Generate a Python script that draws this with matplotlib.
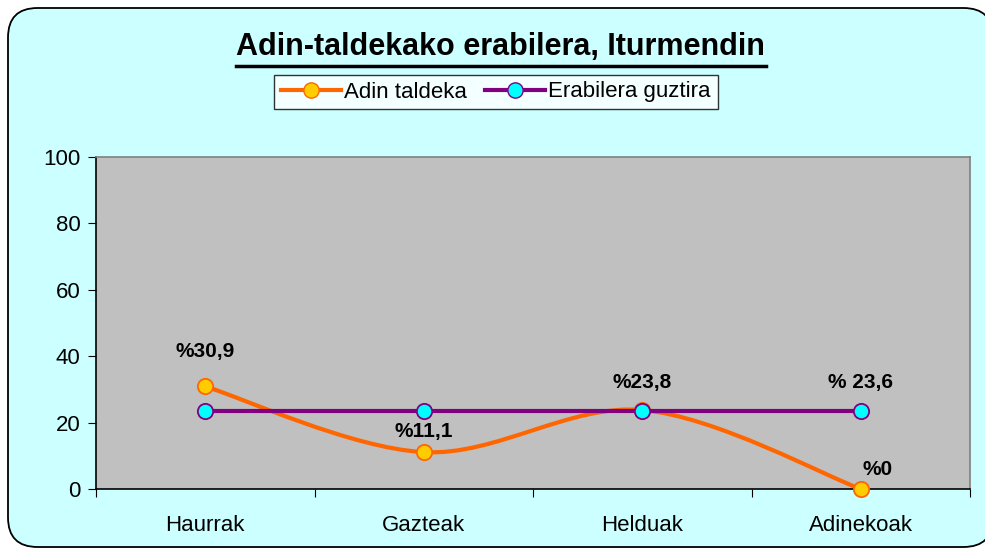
import numpy as np
import matplotlib.pyplot as plt
from matplotlib.path import Path
from matplotlib.patches import PathPatch, FancyBboxPatch
from matplotlib.lines import Line2D

plt.rcParams['font.family'] = ['Liberation Sans', 'DejaVu Sans']

categories = ["Haurrak", "Gazteak", "Helduak", "Adinekoak"]
adin_taldeka = [30.9, 11.1, 23.8, 0.0]
erabilera_guztira = [23.6, 23.6, 23.6, 23.6]
labels_adin = ["%30,9", "%11,1", "%23,8", "%0"]
label_guztira = "% 23,6"

ORANGE = "#FF6600"
ORANGE_FACE = "#FFCC00"
PURPLE = "#800080"
CYAN = "#00FFFF"


def smooth_path(xs, ys):
    # Excel-like smoothing: Catmull-Rom segments as cubic beziers
    pts = list(zip(xs, ys))
    verts = [pts[0]]
    codes = [Path.MOVETO]
    n = len(pts)
    for i in range(n - 1):
        p0 = pts[i - 1] if i > 0 else pts[i]
        p1 = pts[i]
        p2 = pts[i + 1]
        p3 = pts[i + 2] if i + 2 < n else pts[i + 1]
        c1 = (p1[0] + (p2[0] - p0[0]) / 6, p1[1] + (p2[1] - p0[1]) / 6)
        c2 = (p2[0] - (p3[0] - p1[0]) / 6, p2[1] - (p3[1] - p1[1]) / 6)
        verts += [c1, c2, p2]
        codes += [Path.CURVE4] * 3
    return Path(verts, codes)


fig = plt.figure(figsize=(9.85, 5.48), dpi=100)
fig.patch.set_facecolor("white")

# rounded chart area (right edge runs off the picture)
box = FancyBboxPatch((8 / 985, 1 / 548), 985 / 985, 539 / 548,
                     boxstyle="round,pad=0,rounding_size=0.03",
                     transform=fig.transFigure, facecolor="#CCFFFF",
                     edgecolor="black", linewidth=1.3, zorder=-5,
                     mutation_aspect=985 / 548)
fig.patches.append(box)

ax = fig.add_axes([96 / 985, 1 - 489 / 548, 874 / 985, 332 / 548])
ax.set_zorder(1)
ax.set_facecolor("#C0C0C0")
x = np.arange(len(categories)) + 0.5
ax.set_xlim(0, len(categories))
ax.set_ylim(0, 100)

# orange smoothed line
ax.add_patch(PathPatch(smooth_path(x, adin_taldeka), facecolor="none",
                       edgecolor=ORANGE, linewidth=3, zorder=3))
ax.plot(x, adin_taldeka, linestyle="none", marker="o", markersize=11,
        markerfacecolor=ORANGE_FACE, markeredgecolor=ORANGE,
        markeredgewidth=1.3, zorder=4, clip_on=False)

ax.plot(x, erabilera_guztira, color=PURPLE, linewidth=3, marker="o",
        markersize=11, markerfacecolor=CYAN, markeredgecolor=PURPLE,
        markeredgewidth=1.3, zorder=5, clip_on=False)

# data labels
offsets = [(0, 25), (0, 15), (0, 19.5), (12, 14)]
for xi, yi, lab, (dx, dy) in zip(x, adin_taldeka, labels_adin, offsets):
    ax.annotate(lab, (xi, yi), xytext=(dx, dy), textcoords="offset points",
                ha="center", va="center", fontsize=15, fontweight="bold")
ax.annotate(label_guztira, (x[-1], erabilera_guztira[-1]), xytext=(0, 20),
            textcoords="offset points", ha="center", va="center",
            fontsize=15, fontweight="bold")

ax.set_xticks(np.arange(len(categories) + 1))
ax.set_xticklabels([])
ax.set_xticks(x, minor=True)
ax.set_xticklabels(categories, minor=True, fontsize=16)
ax.tick_params(axis="x", which="minor", length=0, pad=19)
ax.tick_params(axis="x", which="major", length=6, direction="out",
               color="black")
ax.set_yticks(np.arange(0, 101, 20))
ax.tick_params(axis="y", labelsize=16, length=6, pad=5)

for side in ["top", "right"]:
    ax.spines[side].set_color("#808080")
ax.spines["left"].set_color("black")
ax.spines["bottom"].set_color("black")
for sp in ax.spines.values():
    sp.set_linewidth(1.2)

fig.text(500 / 985, 1 - 47 / 548, "Adin-taldekako erabilera, Iturmendin",
         ha="center", va="center", fontsize=22, fontweight="bold")
fig.add_artist(Line2D([236 / 985, 766 / 985], [1 - 66 / 548, 1 - 66 / 548],
                      color="black", linewidth=2.5))

handles = [
    Line2D([], [], color=ORANGE, linewidth=3, marker="o", markersize=11,
           markerfacecolor=ORANGE_FACE, markeredgecolor=ORANGE),
    Line2D([], [], color=PURPLE, linewidth=3, marker="o", markersize=11,
           markerfacecolor=CYAN, markeredgecolor=PURPLE),
]
leg = fig.legend(handles, ["Adin taldeka", "Erabilera guztira"],
                 loc="center", bbox_to_anchor=(496 / 985, 1 - 92 / 548),
                 ncol=2, fontsize=16, frameon=True, fancybox=False,
                 handlelength=2.7, handletextpad=0.15, columnspacing=0.8,
                 borderpad=0.3)
leg.get_frame().set_edgecolor("black")
leg.get_frame().set_facecolor("white")
leg.get_frame().set_linewidth(1)

fig.savefig("out.png", dpi=100)
